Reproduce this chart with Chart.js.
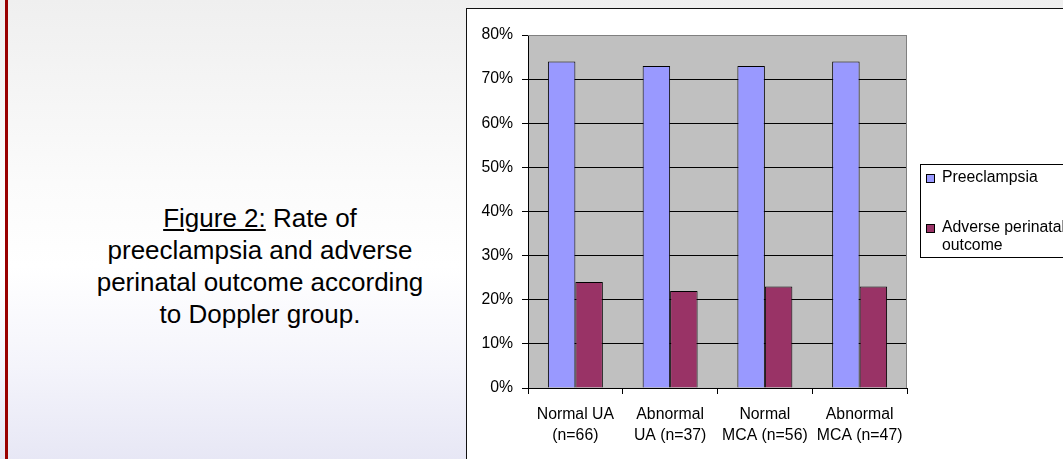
<!DOCTYPE html>
<html>
<head>
<meta charset="utf-8">
<script src="https://cdn.jsdelivr.net/npm/chart.js@4/dist/chart.umd.min.js"></script>
<style>
  body { margin: 0; width: 1063px; height: 459px; overflow: hidden; position: relative;
    background: linear-gradient(#efefef 0%, #fbfbfb 40%, #ffffff 58%, #f4f4fb 80%, #e7e7f5 100%);
    font-family: "Liberation Sans", Arial, sans-serif; }
  #redbar { position: absolute; left: 5px; top: 0; width: 3px; height: 459px; background: #990000; }
  #caption { position: absolute; left: 60px; top: 202px; width: 400px; text-align: center;
    font-size: 26px; line-height: 32px; color: #000; }
  #box { position: absolute; left: 466px; top: 8px; width: 620px; height: 470px;
    background: #fff; border: 1px solid #111; box-sizing: border-box; }
  #chart { position: absolute; left: 467px; top: 9px; }
</style>
</head>
<body>
<div id="redbar"></div>
<div id="caption"><u>Figure 2:</u> Rate of<br>preeclampsia and adverse<br>perinatal outcome according<br>to Doppler group.</div>
<div id="box"></div>
<canvas id="chart" width="596" height="450"></canvas>
<script>
// values (percent)
var categories = [['Normal UA', '(n=66)'], ['Abnormal', 'UA (n=37)'], ['Normal', 'MCA (n=56)'], ['Abnormal', 'MCA (n=47)']];
var preeclampsia = [74, 73, 73, 74];
var adverse = [24, 22, 23, 23];
var seriesNames = ['Preeclampsia', 'Adverse perinatal outcome'];
var yTicks = [0, 10, 20, 30, 40, 50, 60, 70, 80];

var fontFam = '"Liberation Sans", Arial, sans-serif';

var plotBg = {
    id: 'plotBg',
    beforeDraw: function (chart) {
        var a = chart.chartArea, ctx = chart.ctx;
        ctx.save();
        ctx.fillStyle = '#c0c0c0';
        ctx.fillRect(a.left, a.top, a.right - a.left, a.bottom - a.top);
        ctx.restore();
    },
    afterDraw: function (chart) {
        var a = chart.chartArea, ctx = chart.ctx;
        ctx.save();
        ctx.strokeStyle = '#808080';
        ctx.lineWidth = 1;
        ctx.beginPath();
        ctx.moveTo(a.left, a.top + 0.5);
        ctx.lineTo(a.right - 0.5, a.top + 0.5);
        ctx.lineTo(a.right - 0.5, a.bottom);
        ctx.stroke();
        ctx.restore();
    }
};

// legend drawn by hand so the long label can wrap inside the box
var boxLegend = {
    id: 'boxLegend',
    afterDraw: function (chart) {
        var ctx = chart.ctx;
        var x = 453, y = 155, w = 200, h = 93;
        ctx.save();
        ctx.fillStyle = '#fff';
        ctx.fillRect(x, y, w, h);
        ctx.strokeStyle = '#000';
        ctx.lineWidth = 1;
        ctx.strokeRect(x + 0.5, y + 0.5, w, h);
        ctx.font = '15.8px ' + fontFam;
        ctx.textBaseline = 'middle';
        var rows = [178 - 9, 228 - 9];
        chart.data.datasets.forEach(function (ds, i) {
            var cy = rows[i];
            ctx.fillStyle = ds.backgroundColor;
            ctx.fillRect(x + 6, cy - 4, 8, 8);
            ctx.strokeStyle = '#000';
            ctx.strokeRect(x + 6.5, cy - 3.5, 8, 8);
            // wrap words
            var words = ds.label.split(' '), lines = [], cur = '';
            words.forEach(function (wd) {
                var t = cur ? cur + ' ' + wd : wd;
                if (ctx.measureText(t).width > 125 && cur) { lines.push(cur); cur = wd; } else { cur = t; }
            });
            lines.push(cur);
            ctx.fillStyle = '#000';
            lines.forEach(function (ln, k) {
                ctx.fillText(ln, x + 22, cy + k * 18);
            });
        });
        ctx.restore();
    }
};

new Chart(document.getElementById('chart'), {
    type: 'bar',
    data: {
        labels: categories,
        datasets: [
            { label: seriesNames[0], data: preeclampsia, backgroundColor: '#9999ff', borderColor: '#000', borderWidth: 1 },
            { label: seriesNames[1], data: adverse, backgroundColor: '#993366', borderColor: '#000', borderWidth: 1 }
        ]
    },
    options: {
        responsive: false,
        animation: false,
        devicePixelRatio: 1,
        layout: { padding: { top: 26, right: 156, left: 0, bottom: 0 } },
        datasets: { bar: { categoryPercentage: 0.58, barPercentage: 1 } },
        plugins: { legend: { display: false }, tooltip: { enabled: false } },
        scales: {
            x: {
                grid: { drawOnChartArea: false, drawTicks: true, tickLength: 6, tickColor: '#000', offset: true },
                border: { color: '#000', width: 1 },
                ticks: { color: '#000', padding: 10, maxRotation: 0, font: { family: fontFam, size: 15.8, lineHeight: 1.33 } },
                afterFit: function (s) { s.height = 71; }
            },
            y: {
                min: 0, max: 80,
                afterBuildTicks: function (s) { s.ticks = yTicks.map(function (v) { return { value: v }; }); },
                grid: {
                    color: function (c) { return c.tick && c.tick.value === 80 ? '#808080' : '#000'; },
                    tickColor: '#000', tickLength: 6, lineWidth: 1
                },
                border: { color: '#000', width: 1 },
                ticks: { color: '#000', padding: 9, font: { family: fontFam, size: 15.8 },
                    callback: function (v) { return v + '%'; } },
                afterFit: function (s) { s.width = 61; }
            }
        }
    },
    plugins: [plotBg, boxLegend]
});
</script>
</body>
</html>
